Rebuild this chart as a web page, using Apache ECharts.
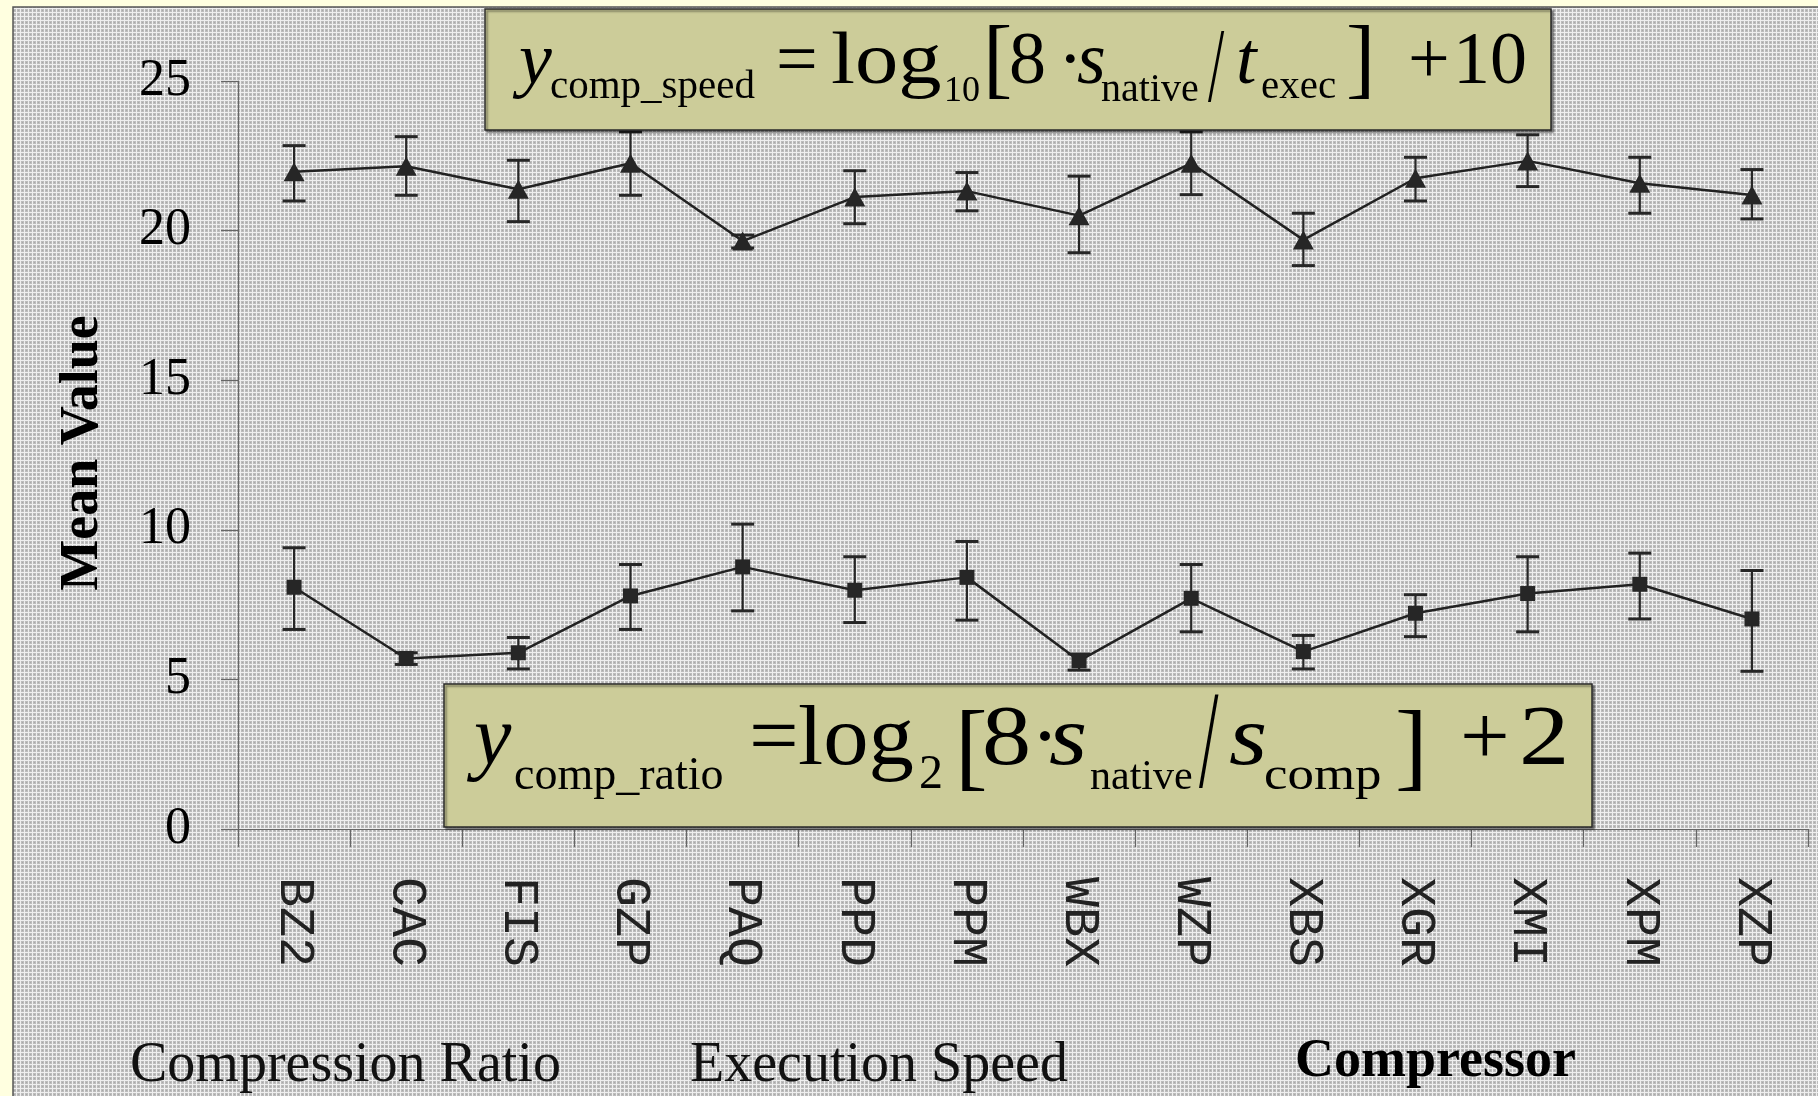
<!DOCTYPE html>
<html><head><meta charset="utf-8">
<script src="https://cdn.jsdelivr.net/npm/echarts@6/dist/echarts.min.js"></script>
<style>html,body{margin:0;padding:0;background:#FFFFE0}#c{width:1818px;height:1096px}</style>
</head><body><div id="c"></div>
<script>
// ---------- data ----------
const categories = ['BZ2','CAC','FIS','GZP','PAQ','PPD','PPM','WBX','WZP','XBS','XGR','XMI','XPM','XZP'];
const speedMean = [21.97, 22.15, 21.38, 22.25, 19.65, 21.12, 21.32, 20.50, 22.25, 19.69, 21.75, 22.33, 21.58, 21.19];
const speedLow  = [20.99, 21.18, 20.30, 21.18, 19.42, 20.23, 20.66, 19.26, 21.20, 18.83, 20.99, 21.47, 20.58, 20.39];
const speedHigh = [22.84, 23.14, 22.35, 23.30, 19.85, 22.00, 21.94, 21.82, 23.30, 20.58, 22.45, 23.20, 22.45, 22.04];
const ratioMean = [8.08, 5.70, 5.89, 7.79, 8.76, 7.98, 8.41, 5.62, 7.71, 5.93, 7.21, 7.87, 8.18, 7.02];
const ratioLow  = [6.67, 5.50, 5.35, 6.67, 7.29, 6.90, 6.98, 5.31, 6.59, 5.35, 6.43, 6.59, 7.02, 5.27];
const ratioHigh = [9.40, 5.89, 6.40, 8.84, 10.19, 9.10, 9.61, 5.85, 8.84, 6.47, 7.83, 9.10, 9.22, 8.64];
const yMin = 0, yMax = 25, yStep = 5;
const yTitle = 'Mean Value';
const bottomTexts = ['Compression Ratio', 'Execution Speed', 'Compressor'];

// ---------- helpers ----------
const SERIF = '"Liberation Serif", "Times New Roman", serif';
const meas = document.createElement('canvas').getContext('2d');
function midOff(size, style, weight) {
  meas.font = (style || 'normal') + ' ' + (weight || 'normal') + ' ' + size + 'px ' + SERIF;
  meas.textBaseline = 'alphabetic';
  const m = meas.measureText('Hg');
  const a = m.fontBoundingBoxAscent != null ? m.fontBoundingBoxAscent : 0.891 * size;
  const d = m.fontBoundingBoxDescent != null ? m.fontBoundingBoxDescent : 0.216 * size;
  return (a - d) / 2;
}
// place text so its alphabetic baseline sits at `base`
function txt(text, x, base, size, o) {
  o = o || {};
  const el = {
    type: 'text', x: x, y: base - midOff(size, o.style, o.weight), z: o.z || 110,
    style: {
      text: text, fill: o.fill || '#000', fontSize: size, fontFamily: SERIF,
      fontStyle: o.style || 'normal', fontWeight: o.weight || 'normal',
      textAlign: o.align || 'left', textVerticalAlign: 'middle', verticalAlign: 'middle'
    }
  };
  if (o.scaleX) el.scaleX = o.scaleX;
  if (o.rotation) el.rotation = o.rotation;
  return el;
}
function makePattern() {
  const c = document.createElement('canvas'); c.width = 4; c.height = 4;
  const g = c.getContext('2d');
  g.fillStyle = '#bcbcbc'; g.fillRect(0, 0, 4, 4);
  g.fillStyle = '#efefef'; g.fillRect(0, 0, 4, 1); g.fillRect(0, 0, 1, 4);
  g.fillStyle = '#a9a9a9'; g.fillRect(2, 2, 1, 1);
  return c;
}

// ---------- annotation boxes (layout only) ----------
const M1 = 74, S1 = 41, B1 = 89, SB1 = 104;
const topEq = [
  txt('y', 519, B1, M1, {style: 'italic'}),
  txt('comp_speed', 550, 101, S1),
  txt('=', 776, B1, M1),
  txt('log', 831, B1, M1, {scaleX: 1.17}),
  txt('10', 944, SB1, 36),
  txt('[', 983, 93, 88),
  txt('8', 1009, B1, M1),
  txt('\u00B7', 1058, B1, M1),
  txt('s', 1077, B1, M1, {style: 'italic'}),
  txt('native', 1101, SB1, 40),
  txt('/', 1208, 109, 106, {scaleX: 0.55}),
  txt('t', 1236, B1, M1, {style: 'italic'}),
  txt('exec', 1261, 101, S1),
  txt(']', 1346, 93, 88),
  txt('+', 1408, B1, M1),
  txt('10', 1453, B1, M1)
];
const M2 = 84, S2 = 46, B2 = 770, SB2 = 792, K = 1.17;
const bottomEq = [
  txt('y', 474, B2, M2, {style: 'italic'}),
  txt('comp_ratio', 514, SB2, S2),
  txt('=', 749, B2, M2, {scaleX: 1.05}),
  txt('log', 798, B2, M2, {scaleX: 1.08}),
  txt('2', 919, SB2, S2 + 2),
  txt('[', 955, 785, 98),
  txt('8', 982, B2, M2, {scaleX: K}),
  txt('\u00B7', 1031, B2, M2),
  txt('s', 1049, B2, M2, {style: 'italic', scaleX: K}),
  txt('native', 1090, SB2, 42),
  txt('/', 1199, 798, 140, {scaleX: 0.5}),
  txt('s', 1229, B2, M2, {style: 'italic', scaleX: K}),
  txt('comp', 1264, SB2, S2, {scaleX: 1.15}),
  txt(']', 1395, 785, 98),
  txt('+', 1460, B2, M2, {scaleX: 1.05}),
  txt('2', 1519, B2, M2, {scaleX: 1.2})
];
const boxStyle = {fill: '#CCCC99', stroke: '#2a2a2a', lineWidth: 1.5,
  shadowBlur: 2, shadowOffsetX: 2, shadowOffsetY: 2, shadowColor: 'rgba(0,0,0,0.45)'};

const titleEl = txt(yTitle, 83, 0, 54, {weight: 'bold', align: 'center', rotation: Math.PI / 2, z: 5, fill: '#000'});
titleEl.y = 453;

const graphics = [
  {type: 'rect', z: -100, shape: {x: 13, y: 7, width: 1818, height: 1100},
   style: {fill: {image: makePattern(), repeat: 'repeat'}, stroke: '#555', lineWidth: 1.5}},
  {type: 'rect', z: 100, shape: {x: 485, y: 9, width: 1066, height: 121}, style: boxStyle},
  {type: 'rect', z: 100, shape: {x: 444, y: 684, width: 1148, height: 143}, style: boxStyle},
  ...topEq, ...bottomEq,
  titleEl,
  txt(bottomTexts[0], 130, 1085, 56, {fill: '#111', z: 5}),
  txt(bottomTexts[1], 690, 1085, 56, {fill: '#111', z: 5}),
  txt(bottomTexts[2], 1295, 1080, 54, {weight: 'bold', fill: '#000', z: 5})
];

function errorBars(low, high) {
  return {
    type: 'custom', z: 3, silent: true,
    data: categories.map((c, i) => [i, low[i], high[i]]),
    encode: {x: 0, y: [1, 2]},
    renderItem: function (params, api) {
      const i = api.value(0);
      const a = api.coord([i, api.value(1)]), b = api.coord([i, api.value(2)]);
      const hw = 11.5;
      return {type: 'group', children: [
        {type: 'line', shape: {x1: a[0], y1: a[1], x2: b[0], y2: b[1]}, style: {stroke: '#262626', lineWidth: 2.2}},
        {type: 'line', shape: {x1: a[0] - hw, y1: a[1], x2: a[0] + hw, y2: a[1]}, style: {stroke: '#262626', lineWidth: 3}},
        {type: 'line', shape: {x1: b[0] - hw, y1: b[1], x2: b[0] + hw, y2: b[1]}, style: {stroke: '#262626', lineWidth: 3}}
      ]};
    }
  };
}

const chart = echarts.init(document.getElementById('c'), null, {renderer: 'canvas'});
chart.setOption({
  animation: false,
  backgroundColor: '#FFFFE0',
  grid: {left: 238, right: 10, top: 81, bottom: 267, containLabel: false},
  xAxis: {
    type: 'category', data: categories, boundaryGap: true,
    axisLine: {lineStyle: {color: '#666', width: 1.2}},
    axisTick: {show: true, length: 18, lineStyle: {color: '#666', width: 1.2}},
    axisLabel: {rotate: -90, margin: 48, fontFamily: '"Liberation Mono", "Courier New", monospace', fontSize: 50, color: '#222'},
    splitLine: {show: false}
  },
  yAxis: {
    type: 'value', min: yMin, max: yMax, interval: yStep,
    axisLine: {show: true, lineStyle: {color: '#666', width: 1.2}},
    axisTick: {show: true, length: 17, lineStyle: {color: '#666', width: 1.2}},
    axisLabel: {margin: 47, fontFamily: SERIF, fontSize: 52, color: '#000'},
    splitLine: {show: false}
  },
  graphic: {elements: graphics},
  series: [
    errorBars(speedLow, speedHigh),
    errorBars(ratioLow, ratioHigh),
    {type: 'line', data: speedMean, z: 4, symbol: 'triangle', symbolSize: [21, 19],
     lineStyle: {color: '#222', width: 2.5}, itemStyle: {color: '#262626'}},
    {type: 'line', data: ratioMean, z: 4, symbol: 'rect', symbolSize: 15,
     lineStyle: {color: '#222', width: 2.5}, itemStyle: {color: '#262626'}}
  ]
});
</script></body></html>
